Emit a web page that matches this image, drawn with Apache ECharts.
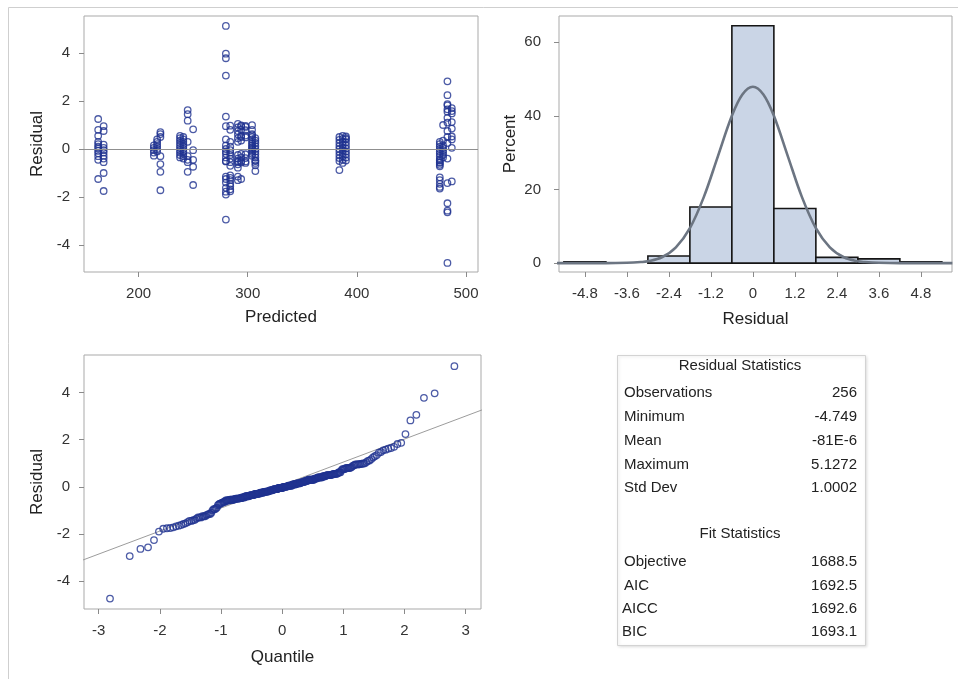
<!DOCTYPE html>
<html>
<head>
<meta charset="utf-8">
<title>Residual diagnostics</title>
<script src="https://cdn.jsdelivr.net/npm/echarts@6/dist/echarts.min.js"></script>
<style>
  html, body { margin: 0; padding: 0; background: #ffffff; }
  #chart { width: 958px; height: 679px; }
</style>
</head>
<body>
<div id="chart"></div>
<script>
// Predicted value of each column of observations and the residuals observed there
const predictedColumns = [163, 168, 214, 217, 220, 238, 241, 245, 250, 280, 284, 291, 294, 298, 304, 307, 384, 387, 390, 476, 479, 483, 487];
const residualColumns = [
  [1.25, 0.80, 0.55, 0.30, 0.20, 0.10, 0.02, -0.08, -0.18, -0.30, -0.45, -1.25],
  [0.95, 0.75, 0.18, 0.05, -0.05, -0.15, -0.28, -0.40, -0.55, -1.00, -1.75],
  [0.15, 0.05, -0.05, -0.15, -0.28],
  [0.40, 0.30, 0.20, 0.10, 0.00, -0.10],
  [0.70, 0.62, 0.50, -0.30, -0.63, -0.95, -1.72],
  [0.55, 0.45, 0.35, 0.25, 0.15, 0.05, -0.05, -0.15, -0.25, -0.35],
  [0.50, 0.40, 0.30, 0.20, 0.10, 0.00, -0.10, -0.20, -0.30, -0.40],
  [1.62, 1.45, 1.18, 0.30, -0.30, -0.55, -0.45, -0.95],
  [0.82, -0.05, -0.45, -0.74, -1.50],
  [5.1272, 3.97, 3.78, 3.06, 1.35, 0.95, 0.40, 0.15, 0.00, -0.10, -0.20, -0.35, -0.50, -0.52, -1.15, -1.25, -1.40, -1.62, -1.78, -1.90, -2.94],
  [0.97, 0.80, 0.30, 0.10, -0.05, -0.15, -0.25, -0.40, -0.55, -0.70, -1.10, -1.20, -1.30, -1.45, -1.55, -1.68, -1.76],
  [1.05, 0.90, 0.75, 0.61, 0.45, 0.30, -0.25, -0.40, -0.50, -0.55, -0.64, -0.78, -1.15, -1.30],
  [0.98, 0.95, 0.80, 0.55, 0.50, 0.35, -0.20, -0.35, -0.50, -0.56, -1.25],
  [0.96, 0.92, 0.78, 0.56, 0.48, -0.22, -0.38, -0.52, -0.58],
  [0.99, 0.80, 0.62, 0.58, 0.50, 0.40, 0.30, 0.22, 0.15, 0.08, 0.02, -0.05, -0.12, -0.20, -0.28],
  [0.45, 0.35, 0.25, 0.12, 0.00, -0.10, -0.22, -0.35, -0.48, -0.58, -0.50, -0.68, -0.92],
  [0.50, 0.38, 0.25, 0.12, 0.00, -0.12, -0.25, -0.38, -0.50, -0.88],
  [0.55, 0.42, 0.30, 0.18, 0.05, -0.05, -0.18, -0.30, -0.45, -0.58],
  [0.52, 0.45, 0.40, 0.28, 0.15, 0.02, -0.10, -0.22, -0.35, -0.48],
  [0.30, 0.20, 0.10, 0.00, -0.10, -0.20, -0.30, -0.42, -0.55, -0.48, -0.58, -0.66, -0.72, -1.18, -1.30, -1.45, -1.58, -1.65],
  [1.00, 0.35, 0.15, 0.05, -0.05, -0.15, -0.25, -0.35],
  [2.82, 2.24, 1.87, 1.82, 1.65, 1.55, 1.30, 1.10, 0.75, 0.50, 0.25, -0.40, -1.42, -2.26, -2.57, -2.64, -4.749],
  [1.70, 1.58, 1.48, 1.12, 0.85, 0.52, 0.40, 0.05, -1.35]
];

// Histogram of residuals: bin midpoints (width 1.2) and percent of observations
const binWidth = 1.2;
const binMidpoints = [-4.8, -3.6, -2.4, -1.2, 0, 1.2, 2.4, 3.6, 4.8];
const binPercents = [0.39, 0, 1.95, 15.23, 64.45, 14.84, 1.56, 1.17, 0.39];

// Fitted normal density, in percent units
const densityX = [-5.6, -4.8, -4.2, -3.6, -3.2, -3.0, -2.6, -2.2, -1.8, -1.4, -1.0, -0.6, -0.3, 0, 0.3, 0.6, 1.0, 1.4, 1.8, 2.2, 2.6, 3.0, 3.2, 3.6, 4.2, 4.8, 5.7];
const densityY = [0, 0, 0, 0.1, 0.3, 0.5, 1.6, 4.3, 9.5, 18.0, 29.0, 40.0, 45.8, 47.9, 45.8, 40.0, 29.0, 18.0, 9.5, 4.3, 1.6, 0.5, 0.3, 0.1, 0, 0, 0];

// Reference line of the normal quantile plot (two end points)
const qqLine = [[-3.3, -3.15], [3.3, 3.3]];

// Tick labels of each axis
const predictedTicks = [200, 300, 400, 500];
const residualTicks = [-4, -2, 0, 2, 4];
const histTicks = [-4.8, -3.6, -2.4, -1.2, 0, 1.2, 2.4, 3.6, 4.8];
const percentTicks = [0, 20, 40, 60];
const quantileTicks = [-3, -2, -1, 0, 1, 2, 3];

// Summary tables
const residualStatLabels = ['Observations', 'Minimum', 'Mean', 'Maximum', 'Std Dev'];
const residualStatValues = ['256', '-4.749', '-81E-6', '5.1272', '1.0002'];
const fitStatLabels = ['Objective', 'AIC', 'AICC', 'BIC'];
const fitStatValues = ['1688.5', '1692.5', '1692.6', '1693.1'];

// ---- derived data ----
const scatterData = [];
predictedColumns.forEach((p, i) => residualColumns[i].forEach(r => scatterData.push([p, r])));

// Inverse standard normal CDF (Acklam's rational approximation)
function normInv(p) {
  const a = [-3.969683028665376e+01, 2.209460984245205e+02, -2.759285104469687e+02, 1.383577518672690e+02, -3.066479806614716e+01, 2.506628277459239e+00];
  const b = [-5.447609879822406e+01, 1.615858368580409e+02, -1.556989798598866e+02, 6.680131188771972e+01, -1.328068155288572e+01];
  const c = [-7.784894002430293e-03, -3.223964580411365e-01, -2.400758277161838e+00, -2.549732539343734e+00, 4.374664141464968e+00, 2.938163982698783e+00];
  const d = [7.784695709041462e-03, 3.224671290700398e-01, 2.445134137142996e+00, 3.754408661907416e+00];
  const plow = 0.02425;
  let q, r;
  if (p < plow) {
    q = Math.sqrt(-2 * Math.log(p));
    return (((((c[0] * q + c[1]) * q + c[2]) * q + c[3]) * q + c[4]) * q + c[5]) / ((((d[0] * q + d[1]) * q + d[2]) * q + d[3]) * q + 1);
  }
  if (p > 1 - plow) {
    q = Math.sqrt(-2 * Math.log(1 - p));
    return -(((((c[0] * q + c[1]) * q + c[2]) * q + c[3]) * q + c[4]) * q + c[5]) / ((((d[0] * q + d[1]) * q + d[2]) * q + d[3]) * q + 1);
  }
  q = p - 0.5; r = q * q;
  return (((((a[0] * r + a[1]) * r + a[2]) * r + a[3]) * r + a[4]) * r + a[5]) * q / (((((b[0] * r + b[1]) * r + b[2]) * r + b[3]) * r + b[4]) * r + 1);
}

// Normal quantile plot: sorted residuals against Blom plotting positions
const sortedResiduals = scatterData.map(d => d[1]).sort((x, y) => x - y);
const n = sortedResiduals.length;
const qqData = sortedResiduals.map((r, i) => [normInv((i + 1 - 0.375) / (n + 0.25)), r]);

const histData = binMidpoints.map((m, i) => [m, binPercents[i]]);
const densityData = densityX.map((x, i) => [x, densityY[i]]);

// ---- styling ----
const FONT = "'Liberation Sans', Arial, sans-serif";
const markerColor = '#1f3290';
const frameColor = '#a9a9a9';

function valueAxis(gridIndex, min, max, ticks, nameText, nameGap, labelMargin, formatter) {
  return {
    type: 'value', gridIndex, min, max,
    name: nameText, nameLocation: 'middle', nameGap,
    nameTextStyle: { fontFamily: FONT, fontSize: 17, color: '#222' },
    axisLine: { show: false, onZero: false },
    splitLine: { show: false },
    axisTick: { show: true, length: 5, inside: false, customValues: ticks, lineStyle: { color: '#8a8a8a' } },
    axisLabel: { customValues: ticks, margin: labelMargin, fontFamily: FONT, fontSize: 15, color: '#333', formatter: formatter }
  };
}

const gridBase = { show: true, borderColor: frameColor, borderWidth: 1, backgroundColor: '#ffffff', containLabel: false };

const chart = echarts.init(document.getElementById('chart'), null, { renderer: 'canvas' });

const tableLeft = 617, tableTop = 355, tableWidth = 248, tableHeight = 290;
const labelX = 624, valueX = 857;
const textStyle = (text, x, y, align) => ({ type: 'text', style: { text, x, y, textAlign: align, textVerticalAlign: 'middle', font: '15px ' + FONT, fill: '#222' } });
const tableTexts = [textStyle('Residual Statistics', 740, 366, 'center')];
residualStatLabels.forEach((t, i) => {
  const y = 393 + i * 23.8;
  tableTexts.push(textStyle(t, labelX, y, 'left'));
  tableTexts.push(textStyle(residualStatValues[i], valueX, y, 'right'));
});
tableTexts.push(textStyle('Fit Statistics', 740, 534, 'center'));
fitStatLabels.forEach((t, i) => {
  const y = 562 + i * 23.4;
  const lx = (t === 'AICC' || t === 'BIC') ? labelX - 2 : labelX;
  tableTexts.push(textStyle(t, lx, y, 'left'));
  tableTexts.push(textStyle(fitStatValues[i], valueX, y, 'right'));
});

const option = {
  animation: false,
  backgroundColor: '#ffffff',
  textStyle: { fontFamily: FONT },
  grid: [
    Object.assign({ left: 84, top: 16, width: 394, height: 256 }, gridBase),
    Object.assign({ left: 559, top: 16, width: 393, height: 256 }, gridBase),
    Object.assign({ left: 84, top: 355, width: 397, height: 254 }, gridBase)
  ],
  xAxis: [
    valueAxis(0, 150, 511, predictedTicks, 'Predicted', 37, 14),
    valueAxis(1, -5.54, 5.69, histTicks, 'Residual', 39, 14, v => (v === 0 ? '0' : v.toFixed(1))),
    valueAxis(2, -3.24, 3.25, quantileTicks, 'Quantile', 40, 14)
  ],
  yAxis: [
    valueAxis(0, -5.125, 5.54, residualTicks, 'Residual', 38, 14),
    valueAxis(1, -2.4, 67.1, percentTicks, 'Percent', 40, 18),
    valueAxis(2, -5.19, 5.6, residualTicks, 'Residual', 38, 14)
  ],
  graphic: [
    { type: 'rect', z: -10, silent: true, shape: { x: 8.5, y: 7.5, width: 1000, height: 700 }, style: { fill: 'none', stroke: '#cfcfcf', lineWidth: 1 } },
    { type: 'rect', z: 0, silent: true, shape: { x: tableLeft + 0.5, y: tableTop + 0.5, width: tableWidth, height: tableHeight },
      style: { fill: '#ffffff', stroke: '#d3d3d3', lineWidth: 1, shadowColor: 'rgba(0,0,0,0.12)', shadowBlur: 3, shadowOffsetX: 1, shadowOffsetY: 1 } },
    { type: 'group', z: 5, children: tableTexts }
  ],
  series: [
    {
      name: 'Residual by Predicted', type: 'scatter', xAxisIndex: 0, yAxisIndex: 0,
      data: scatterData, symbol: 'circle', symbolSize: 6.5,
      itemStyle: { color: 'rgba(255,255,255,0)', borderColor: markerColor, borderWidth: 1.3 },
      markLine: {
        silent: true, symbol: 'none', label: { show: false },
        lineStyle: { color: '#8f8f8f', width: 1, type: 'solid' },
        data: [{ yAxis: 0 }]
      },
      z: 3
    },
    {
      name: 'Residual histogram', type: 'custom', xAxisIndex: 1, yAxisIndex: 1,
      data: histData,
      renderItem: function (params, api) {
        const mid = api.value(0), pct = api.value(1);
        if (pct <= 0) return null;
        const p0 = api.coord([mid - binWidth / 2, 0]);
        const p1 = api.coord([mid + binWidth / 2, pct]);
        return {
          type: 'rect',
          shape: { x: p0[0], y: p1[1], width: p1[0] - p0[0], height: p0[1] - p1[1] },
          style: { fill: '#cad5e6', stroke: '#151515', lineWidth: 1.6 }
        };
      },
      z: 2
    },
    {
      name: 'Normal density', type: 'line', xAxisIndex: 1, yAxisIndex: 1,
      data: densityData, smooth: 0.35, symbol: 'none',
      lineStyle: { color: '#6c7582', width: 2.6 },
      z: 4
    },
    {
      name: 'Reference line', type: 'line', xAxisIndex: 2, yAxisIndex: 2,
      data: qqLine, symbol: 'none', clip: true,
      lineStyle: { color: '#9c9c9c', width: 1 },
      z: 2
    },
    {
      name: 'Residual quantiles', type: 'scatter', xAxisIndex: 2, yAxisIndex: 2,
      data: qqData, symbol: 'circle', symbolSize: 6.5,
      itemStyle: { color: 'rgba(255,255,255,0)', borderColor: markerColor, borderWidth: 1.3 },
      z: 3
    }
  ]
};

chart.setOption(option);
</script>
</body>
</html>
